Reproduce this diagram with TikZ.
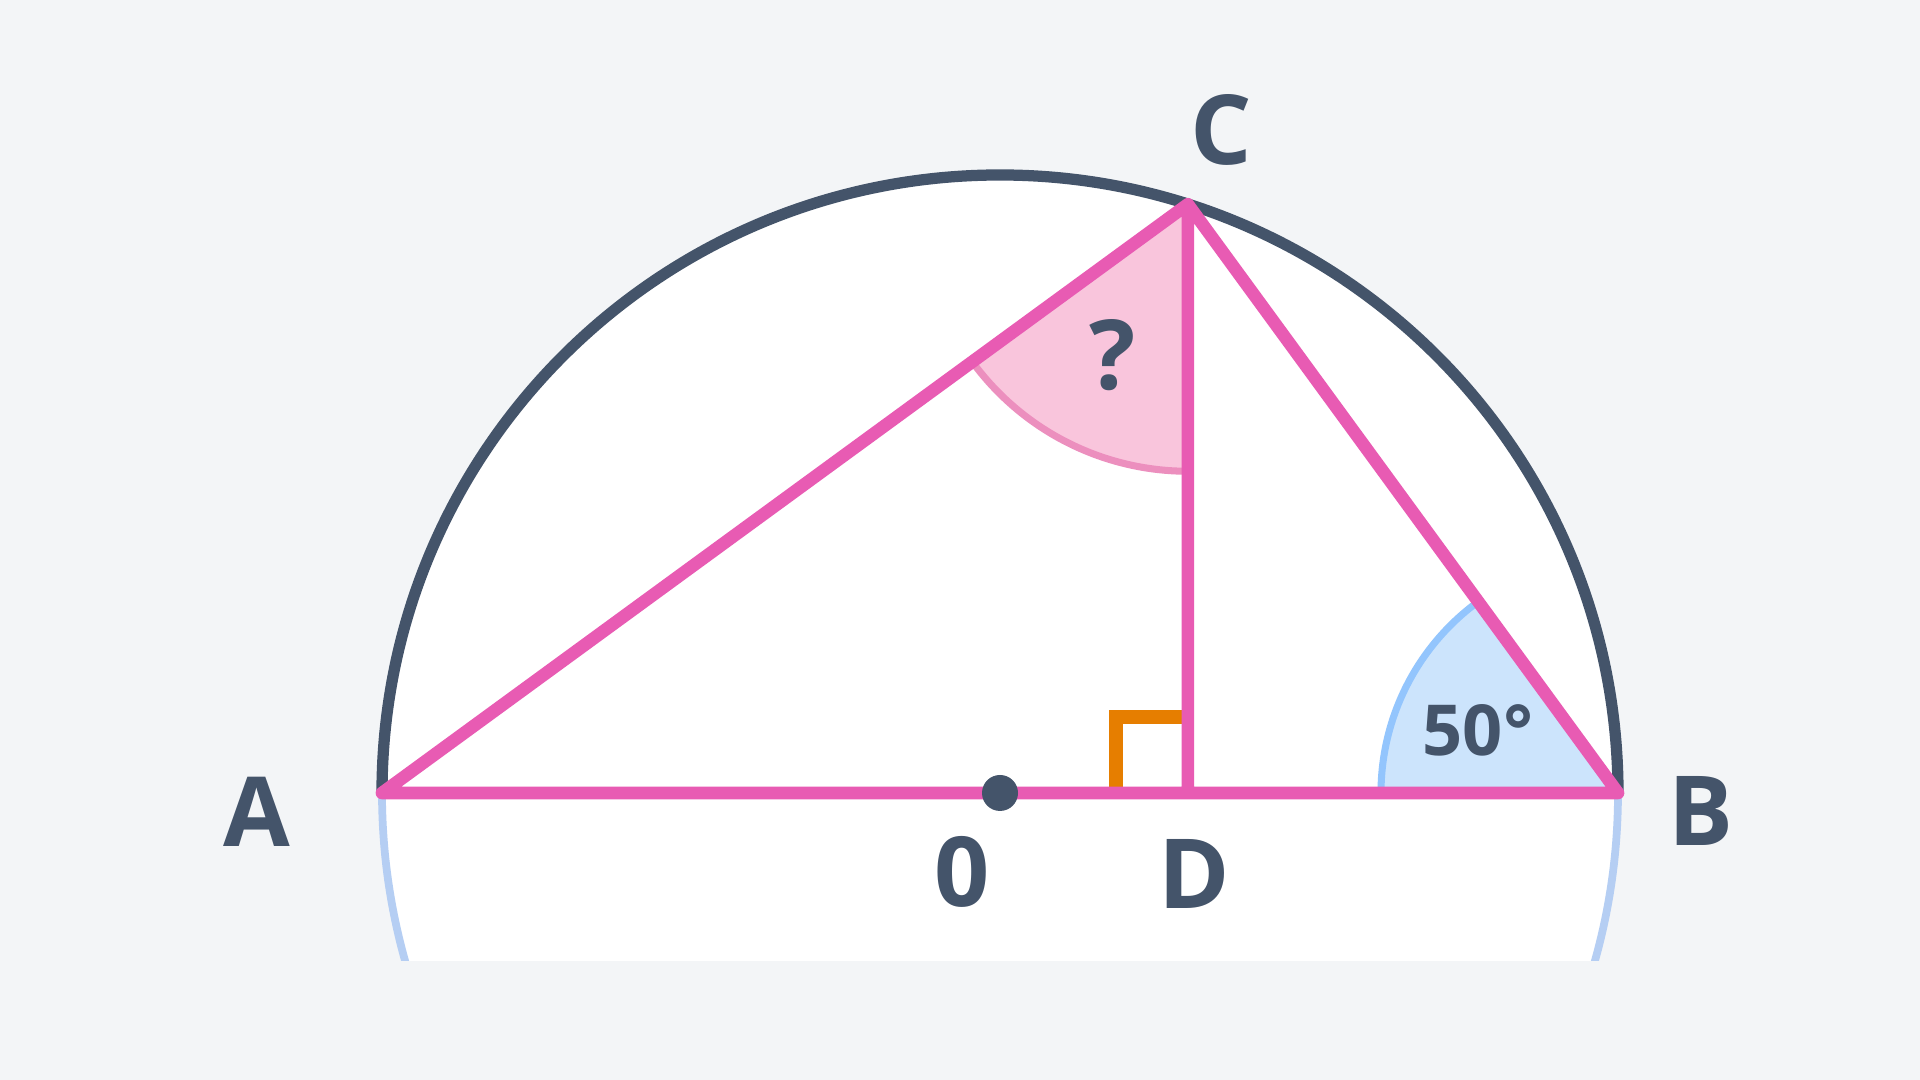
\documentclass[tikz,border=0pt]{standalone}
\usepackage{fontspec}
\setmainfont{Open Sans}
\definecolor{bgc}{HTML}{F3F5F7}
\definecolor{slate}{HTML}{44546A}
\definecolor{pinkline}{HTML}{E85BB3}
\definecolor{pinkfill}{HTML}{F9C5DC}
\definecolor{pinkarc}{HTML}{EC8FBE}
\definecolor{bluefill}{HTML}{CCE4FC}
\definecolor{bluearc}{HTML}{93C5FD}
\definecolor{circblue}{HTML}{B5CEF3}
\definecolor{rightang}{HTML}{E67E00}
\begin{document}
\begin{tikzpicture}[x=0.01cm,y=0.01cm,line join=round,line cap=round,font=\bfseries\fontsize{27.5}{33}\selectfont]
			\useasboundingbox[fill=bgc] (0,0) rectangle (1920,1080);
			%%Points
			\path
			(1000,287)coordinate(O)++(0:618)coordinate(B)
			(O)++(180:618)coordinate(A)
			(O)++(72.3:618)coordinate(C)
			(C|-O)coordinate(D)
			;
			%%Circle
			\begin{scope}
				\clip (0,119) rectangle (1920,1080);
				\draw[line width=2.2pt,circblue,fill=white] (O) circle (618);
			\end{scope}
			\draw[line width=3.2pt,slate] (B) arc (0:180:618);
			%%Angles
			\fill[pinkfill] (C)--++(216.15:267) arc (216.15:270:267)--cycle;
			\draw[line width=2pt,pinkarc,line cap=butt] (C)++(216.15:267) arc (216.15:270:267);
			\fill[bluefill] (B)--++(126.15:237) arc (126.15:180:237)--cycle;
			\draw[line width=2pt,bluearc,line cap=butt] (B)++(126.15:237) arc (126.15:180:237);
			\draw[line width=4.2pt,rightang,line cap=butt,line join=miter] (D)++(0,76)--++(-72,0)--++(0,-76);
			%%Sides
			\draw[line width=3.6pt,pinkline] (A)--(B) (A)--(C)--(B) (C)--(D);
			\fill[slate] (O) circle (18);
			%%Labels
			\foreach \n/\t/\x/\y in {A/A/257/268,B/B/1701/269,C/C/1221/950,O/0/962/208,D/D/1194/206}{
					\node[slate] (l\n) at (\x,\y) {\t};
				}
			\node[slate] (lq) at (1113,725) {?};
			\node[slate,font=\bfseries\fontsize{20}{24}\selectfont] (lang) at (1478,350) {50°};
		\end{tikzpicture}
\end{document}
